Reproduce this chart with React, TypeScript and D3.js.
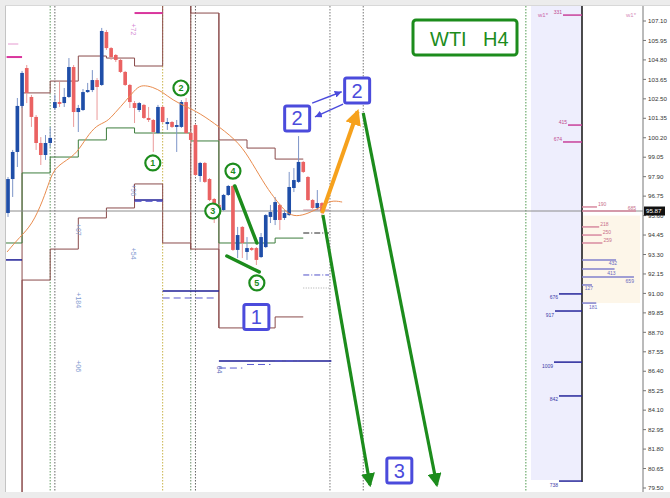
import * as d3 from "d3";

const W = 670;
const H = 498;
const PLOT = { left: 6, right: 643, top: 6, bottom: 492 };
const PANEL = { left: 531, mid: 582, right: 640, bottom: 480 };

// H4 candles: open, high, low, close
const candles: [number, number, number, number][] = [
  [95.75, 97.88, 95.52, 97.76], [97.76, 99.48, 96.7, 99.36], [99.36, 102.55, 98.47, 102.08],
  [102.08, 104.15, 101.96, 104.03], [104.32, 104.5, 102.25, 102.85], [102.61, 102.73, 100.84, 101.43],
  [101.43, 101.54, 99.48, 99.89], [99.89, 100.24, 98.59, 99.18], [99.18, 100.36, 98.89, 99.89],
  [99.89, 100.84, 99.65, 100.19], [101.96, 102.73, 101.84, 102.31], [102.31, 103.5, 102.02, 102.2],
  [102.25, 103.14, 102.02, 102.61], [102.61, 104.91, 102.55, 104.38], [104.38, 104.5, 100.84, 101.72],
  [101.72, 102.14, 100.54, 101.96], [101.84, 103.08, 101.78, 102.9], [102.9, 103.44, 102.85, 103.02],
  [103.02, 104.2, 102.9, 103.61], [103.61, 103.73, 101.25, 103.2], [103.32, 106.69, 103.26, 106.51],
  [106.45, 106.57, 105.39, 105.5], [105.5, 105.56, 104.8, 104.97], [105.09, 105.15, 104.68, 104.8],
  [104.8, 104.85, 104.03, 104.09], [104.09, 104.15, 103.26, 103.32], [103.32, 103.38, 101.96, 102.31],
  [102.25, 102.37, 101.07, 101.96], [101.84, 102.31, 101.72, 102.25], [102.14, 102.2, 101.31, 101.37],
  [101.37, 102.02, 101.13, 101.25], [101.25, 101.31, 99.36, 100.54], [100.48, 102.14, 100.42, 102.02],
  [102.02, 102.08, 101.07, 101.13], [101.01, 101.37, 100.66, 101.13], [101.13, 101.19, 100.78, 100.84],
  [100.84, 101.25, 99.36, 100.95], [100.84, 102.43, 100.78, 102.31], [102.31, 102.55, 100.42, 100.48],
  [100.48, 100.54, 99.89, 100.07], [100.95, 101.01, 97.94, 98.0], [97.94, 98.77, 97.59, 98.71],
  [98.71, 98.77, 97.53, 97.59], [97.76, 97.82, 96.46, 96.52], [96.58, 96.64, 95.16, 96.11],
  [96.23, 96.29, 95.87, 95.93], [95.93, 96.88, 95.87, 96.82], [96.82, 97.41, 96.76, 97.35],
  [97.35, 97.41, 93.51, 93.57], [93.57, 94.93, 93.09, 94.45], [94.93, 94.98, 93.09, 93.98],
  [93.45, 94.33, 92.98, 93.68], [93.68, 93.74, 93.51, 93.57], [93.68, 93.74, 92.68, 92.98],
  [93.15, 94.57, 93.09, 94.33], [93.74, 95.69, 93.68, 95.63], [95.52, 96.23, 95.16, 95.81],
  [95.34, 96.7, 95.04, 96.4], [96.23, 96.29, 94.75, 95.34], [95.46, 95.93, 95.34, 95.75],
  [95.63, 98.18, 95.58, 97.29], [97.23, 98.41, 96.99, 97.7], [97.59, 100.3, 97.53, 98.77],
  [98.77, 98.83, 98.12, 98.18], [97.88, 97.94, 96.46, 96.52], [96.52, 96.58, 95.99, 96.05],
  [96.05, 97.11, 95.93, 96.34], [96.34, 96.4, 95.46, 95.87],
];

const lastPrice = 95.87;

// moving average (bar index, price)
const maLine: [number, number][] = [
  [-0.2, 93.45], [2.5, 94.33], [5.1, 95.04], [7.5, 96.52], [8.9, 97.7], [10, 98.41], [12.6, 98.89],
  [14.7, 99.3], [16.8, 100.24], [18.9, 100.95], [21.1, 101.13], [22.8, 101.66], [25.3, 102.43],
  [27.4, 103.14], [28.7, 103.32], [30.9, 103.2], [33, 102.9], [35.1, 102.43], [38.1, 102.02],
  [40.9, 101.66], [45.1, 100.84], [49.4, 99.89], [52.1, 98.71], [55.1, 97.29], [57.2, 96.52],
  [59.4, 95.75], [61.5, 95.52], [64.3, 95.75], [66.8, 96.11], [68.9, 96.52], [71.3, 96.4],
];

// daily pivot bands (start bar, level)
const upperBand: [number, number][] = [
  [3, 102.85], [9, 103.55], [15, 105.03], [21, 104.91], [27, 104.44], [33, 109.5],
  [39, 107.57], [45, 100.07], [51, 99.59], [57, 98.94], [63, 98.94],
];
const lowerBand: [number, number][] = [
  [-1, 78], [3, 91.79], [9, 93.62], [15, 95.46], [21, 96.05], [27, 97.47], [33, 93.98],
  [39, 93.62], [45, 88.96], [57, 89.61], [63, 89.61],
];
const midBand: [number, number][] = [
  [-1, 93.98], [3, 98.12], [9, 99.06], [15, 100.07], [21, 100.78], [27, 100.48],
  [39, 100.01], [45, 93.98], [57, 94.27], [63, 94.27],
];
// weekly breaks: bar, from price, to price
const weekBreaks: [number, number, number][] = [
  [3, 102.85, 78],
  [39, 109.5, 93.62],
  [45, 107.57, 88.96],
];

// support levels: from bar, to bar, price
const navyLevels: [number, number, number][] = [
  [-1, 3, 92.98], [27, 33, 96.52], [33, 45, 91.14], [45, 69, 87.01],
];
const navyDashes: [number, number, number][] = [
  [27, 33, 96.44], [33, 44, 90.73], [45, 50, 86.59], [51, 56, 86.8], [57, 62, 87.01],
];
const magentaLevels: [number, number, number, number][] = [
  [27, 33, 107.57, 2], [-0.3, 3, 104.97, 2], [0, 2.2, 105.74, 1],
];

const separators: [number, string][] = [
  [9, "#5f9a5f"], [10, "#666"], [33, "#c9b34a"], [39, "#6a8f6a"], [40, "#666"],
  [68.7, "#777"], [75.8, "#777"], [110.5, "#4f9a4f"],
];

const sideLabels: [number, number, string, string][] = [
  [15, 94.76, "+07", "#7f9bd0"], [15, 90.6, "+184", "#7f9bd0"], [15, 86.7, "+06", "#7f9bd0"],
  [26.7, 93.35, "+54", "#7f9bd0"], [26.7, 97.1, "+96", "#7f9bd0"], [26.7, 106.6, "+72", "#d48ad4"],
  [45, 86.5, "64", "#5a6ab8"],
];

const priceTicks = [
  "107.10", "105.95", "104.80", "103.65", "102.50", "101.35", "100.20", "99.05", "97.90",
  "96.75", "95.60", "94.45", "93.30", "92.15", "91.00", "89.85", "88.70", "87.55", "86.40",
  "85.25", "84.10", "82.95", "81.80", "80.65", "79.50",
];

// weekly volume profile (left of panel line) and session profile (right)
const profileLeft = [
  { price: 107.45, label: "331", len: 19, color: "#c8409a" },
  { price: 100.95, label: "415", len: 14, color: "#c8409a" },
  { price: 99.95, label: "674", len: 19, color: "#c8409a" },
  { price: 90.97, label: "676", len: 23, color: "#25259a" },
  { price: 89.96, label: "917", len: 27, color: "#25259a" },
  { price: 86.94, label: "1009", len: 28, color: "#25259a" },
  { price: 84.94, label: "842", len: 23, color: "#25259a" },
  { price: 79.91, label: "738", len: 23, color: "#25259a" },
];
const profileRight = [
  { price: 96.11, vol: 190, upper: true }, { price: 95.87, vol: 685, upper: true },
  { price: 94.93, vol: 218, upper: true }, { price: 94.45, vol: 250, upper: true },
  { price: 93.98, vol: 259, upper: true }, { price: 92.98, vol: 432, upper: false },
  { price: 92.44, vol: 413, upper: false }, { price: 91.97, vol: 659, upper: false },
  { price: 91.5, vol: 127, upper: false }, { price: 90.43, vol: 181, upper: false },
];

// annotations in (bar, price)
const waveMarks: [number, number, string][] = [
  [30.9, 98.71, "1"], [36.9, 103.14, "2"], [43.7, 95.87, "3"], [48, 98.23, "4"], [53.1, 91.62, "5"],
];
const waveLines: [number, number, number, number][] = [
  [48.4, 97.35, 53.1, 93.98], [46.7, 93.21, 53.6, 92.27],
];
const greenArrows: [number, number, number, number][] = [
  [67.2, 95.63, 77.25, 79.68], [75.8, 101.66, 91.5, 79.68],
];
const orangeArrow: [number, number, number, number] = [67.0, 95.75, 74.6, 101.75];
const boxes: [number, number, string][] = [
  [53, 89.61, "1"], [61.7, 101.34, "2"], [74.5, 102.99, "2"], [83.5, 80.53, "3"],
];
const blueArrows: [number, number, number, number][] = [
  [64.9, 102.25, 71.2, 102.92], [71.5, 102.19, 65.5, 101.43],
];

const SANS = "'Liberation Sans', Arial, sans-serif";

export default function App() {
  const x = d3.scaleLinear().domain([0, candles.length - 1]).range([8, 322]);
  const y = d3.scaleLinear().domain([79.5, 107.1]).range([488, 21]);
  const volScale = d3.scaleLinear().domain([0, 685]).range([0, 54]);
  const bw = (x(1) - x(0)) * 0.78;

  const stepLine = d3
    .line<[number, number]>()
    .x((d) => x(d[0]))
    .y((d) => y(d[1]))
    .curve(d3.curveStepAfter);
  const smooth = d3
    .line<[number, number]>()
    .x((d) => x(d[0]))
    .y((d) => y(d[1]))
    .curve(d3.curveBasis);

  const green = "#1c8c1c";
  const boxBlue = "#4b4bdc";

  return (
    <div style={{ position: "absolute", left: 0, top: 0 }}>
      <svg width={W} height={H} style={{ display: "block" }}>
        <defs>
          <clipPath id="plot">
            <rect x={PLOT.left} y={PLOT.top} width={PLOT.right - PLOT.left} height={PLOT.bottom - PLOT.top} />
          </clipPath>
          <marker id="gHead" markerUnits="userSpaceOnUse" markerWidth={14} markerHeight={14} refX={10} refY={6} orient="auto" viewBox="0 0 12 12">
            <path d="M0,0 L12,6 L0,12 Z" fill={green} />
          </marker>
          <marker id="oHead" markerUnits="userSpaceOnUse" markerWidth={16} markerHeight={16} refX={10} refY={6} orient="auto" viewBox="0 0 12 12">
            <path d="M0,0 L12,6 L0,12 Z" fill="#f6a11c" />
          </marker>
          <marker id="bHead" markerUnits="userSpaceOnUse" markerWidth={7} markerHeight={7} refX={6} refY={3} orient="auto" viewBox="0 0 6 6">
            <path d="M0,0 L6,3 L0,6 Z" fill={boxBlue} />
          </marker>
        </defs>

        <rect width={W} height={H} fill="#ececec" />
        <rect x={5} y={5} width={W - 5} height={PLOT.bottom - 5} fill="#fff" />
        <line x1={5.5} x2={5.5} y1={5} y2={PLOT.bottom} stroke="#c4c4c4" />
        <line x1={5} x2={W} y1={5.5} y2={5.5} stroke="#d8d8d8" />

        {/* profile panel */}
        <rect x={PANEL.left} y={PLOT.top} width={PANEL.mid - PANEL.left} height={PANEL.bottom - PLOT.top} fill="#eeeefd" />
        <rect x={PANEL.mid} y={y(95.6)} width={PANEL.right - PANEL.mid} height={y(90.43) - y(95.6)} fill="#fdf6e9" />

        <g clipPath="url(#plot)">
          {separators.map(([b, c], i) => (
            <line key={i} x1={x(b)} x2={x(b)} y1={PLOT.top} y2={PLOT.bottom} stroke={c} strokeWidth={1} strokeDasharray="1.5,1.5" />
          ))}

          <path d={stepLine(upperBand) ?? ""} fill="none" stroke="#8a4b4b" strokeWidth={1} />
          <path d={stepLine(lowerBand) ?? ""} fill="none" stroke="#8a4b4b" strokeWidth={1} />
          {weekBreaks.map(([b, p1, p2], i) => (
            <line key={i} x1={x(b)} x2={x(b)} y1={y(p1)} y2={y(p2)} stroke="#8a4b4b" strokeWidth={1} />
          ))}
          <path d={stepLine(midBand) ?? ""} fill="none" stroke="#3d7d3d" strokeWidth={1} />

          {navyLevels.map(([a, b, p], i) => (
            <line key={i} x1={x(a)} x2={x(b)} y1={y(p)} y2={y(p)} stroke="#1e1e96" strokeWidth={1.5} />
          ))}
          {navyDashes.map(([a, b, p], i) => (
            <line key={i} x1={x(a)} x2={x(b)} y1={y(p)} y2={y(p)} stroke="#5a5ad0" strokeWidth={1} strokeDasharray="7,4" />
          ))}
          {magentaLevels.map(([a, b, p, w], i) => (
            <line key={i} x1={x(a)} x2={x(b)} y1={y(p)} y2={y(p)} stroke={w > 1 ? "#d9359d" : "#e59ad0"} strokeWidth={w} />
          ))}
          <line x1={x(63)} x2={x(68.5)} y1={y(94.57)} y2={y(94.57)} stroke="#222" strokeWidth={1} strokeDasharray="6,2,1,2" />
          <line x1={x(63)} x2={x(68.5)} y1={y(92.09)} y2={y(92.09)} stroke="#5050c8" strokeWidth={1} strokeDasharray="6,2,1,2" />
          <line x1={x(63)} x2={x(68.5)} y1={y(91.32)} y2={y(91.32)} stroke="#aaa" strokeWidth={1} strokeDasharray="1,1.5" />
          <line x1={x(63)} x2={x(68.5)} y1={y(95.93)} y2={y(95.93)} stroke="#d08a9a" strokeWidth={1} />

          {sideLabels.map(([b, p, t, c], i) => (
            <text key={i} x={x(b)} y={y(p)} transform={`rotate(90, ${x(b)}, ${y(p)})`} fontSize={7} fill={c} fontFamily={SANS} textAnchor="middle" dominantBaseline="middle">
              {t}
            </text>
          ))}

          {/* current price */}
          <line x1={PLOT.left} x2={PLOT.right} y1={y(lastPrice)} y2={y(lastPrice)} stroke="#8c8c8c" strokeWidth={1} />

          {candles.map(([o, h, l, c], i) => {
            const up = c >= o;
            const top = y(Math.max(o, c));
            const bot = y(Math.min(o, c));
            return (
              <g key={i}>
                <line x1={x(i)} x2={x(i)} y1={y(h)} y2={y(l)} stroke={up ? "#7d95c8" : "#eb9a9a"} strokeWidth={1} />
                <rect x={x(i) - bw / 2} y={top} width={bw} height={Math.max(1, bot - top)} fill={up ? "#1f4ea8" : "#ea6262"} />
              </g>
            );
          })}

          <path d={smooth(maLine) ?? ""} fill="none" stroke="#e98c4e" strokeWidth={1} />
        </g>

        {/* profile */}
        <line x1={PANEL.mid} x2={PANEL.mid} y1={PLOT.top} y2={PANEL.bottom + 2} stroke="#111" strokeWidth={1.5} />
        {profileLeft.map((d, i) => {
            const yy = y(d.price);
            const pink = d.color !== "#25259a";
            return (
              <g key={i}>
                <line x1={PANEL.mid - d.len} x2={PANEL.mid} y1={yy} y2={yy} stroke={d.color} strokeWidth={1.5} />
                <text x={PANEL.mid - d.len - 1} y={pink ? yy - 1 : yy + 5.5} fontSize={5} fill={pink ? "#c04a90" : "#3a3aa8"} fontFamily={SANS} textAnchor="end">
                  {d.label}
                </text>
              </g>
            );
          })}
        {profileRight.map((d, i) => {
          const yy = y(d.price);
          const x2 = PANEL.mid + volScale(d.vol);
          return (
            <g key={i}>
              <line x1={PANEL.mid} x2={x2} y1={yy} y2={yy} stroke={d.upper ? "#d88aa0" : "#8080cc"} strokeWidth={1.5} />
              <text x={d.vol > 600 ? x2 : x2 + 1} y={d.upper ? yy - 1 : yy + 5.5} fontSize={5} fill={d.upper ? "#c8708a" : "#6a6ac0"} fontFamily={SANS} textAnchor={d.upper && d.vol < 600 ? "start" : "end"}>
                {d.vol}
              </text>
            </g>
          );
        })}
        <text x={538} y={17} fontSize={6} fill="#cc66aa" fontFamily={SANS}>w1*</text>
        <text x={626} y={17} fontSize={6} fill="#d68cbc" fontFamily={SANS}>w1*</text>

        {/* annotations */}
        {waveLines.map(([a, p1, b, p2], i) => (
          <line key={i} x1={x(a)} y1={y(p1)} x2={x(b)} y2={y(p2)} stroke={green} strokeWidth={3.5} strokeLinecap="round" />
        ))}
        {greenArrows.map(([a, p1, b, p2], i) => (
          <line key={i} x1={x(a)} y1={y(p1)} x2={x(b)} y2={y(p2)} stroke={green} strokeWidth={3.2} markerEnd="url(#gHead)" />
        ))}
        <line x1={x(orangeArrow[0])} y1={y(orangeArrow[1])} x2={x(orangeArrow[2])} y2={y(orangeArrow[3])} stroke="#f6a11c" strokeWidth={4} markerEnd="url(#oHead)" />
        {blueArrows.map(([a, p1, b, p2], i) => (
          <line key={i} x1={x(a)} y1={y(p1)} x2={x(b)} y2={y(p2)} stroke={boxBlue} strokeWidth={1.4} markerEnd="url(#bHead)" />
        ))}
        {waveMarks.map(([b, p, t], i) => (
          <g key={i}>
            <circle cx={x(b)} cy={y(p)} r={7.5} fill="#fff" stroke={green} strokeWidth={2.2} />
            <text x={x(b)} y={y(p) + 3.2} fontSize={9} fontWeight="bold" fill={green} fontFamily={SANS} textAnchor="middle">
              {t}
            </text>
          </g>
        ))}
        {boxes.map(([b, p, t], i) => (
          <g key={i}>
            <rect x={x(b) - 12.5} y={y(p) - 12.5} width={25} height={25} rx={2} fill="#fff" stroke={boxBlue} strokeWidth={3} />
            <text x={x(b)} y={y(p) + 7} fontSize={20} fill={boxBlue} fontFamily={SANS} textAnchor="middle">
              {t}
            </text>
          </g>
        ))}

        <rect x={413} y={20} width={104} height={35} rx={3} fill="#fff" stroke={green} strokeWidth={3} />
        <text x={430} y={46} fontSize={20} fill={green} fontFamily={SANS}>WTI</text>
        <text x={483} y={46} fontSize={20} fill={green} fontFamily={SANS}>H4</text>

        {/* price axis */}
        <line x1={PLOT.right} x2={PLOT.right} y1={PLOT.top} y2={PLOT.bottom} stroke="#777" strokeWidth={1} />
        {priceTicks.map((t) => {
          const yy = y(parseFloat(t));
          return (
            <g key={t}>
              <line x1={PLOT.right} x2={PLOT.right + 3} y1={yy} y2={yy} stroke="#777" />
              <text x={PLOT.right + 5} y={yy + 2.2} fontSize={6.2} fill="#333" fontFamily={SANS}>{t}</text>
            </g>
          );
        })}
        <rect x={PLOT.right + 1} y={y(lastPrice) - 4.5} width={21} height={9} fill="#111" />
        <text x={PLOT.right + 3} y={y(lastPrice) + 2.3} fontSize={6.2} fill="#fff" fontFamily={SANS}>{lastPrice.toFixed(2)}</text>
      </svg>
    </div>
  );
}
